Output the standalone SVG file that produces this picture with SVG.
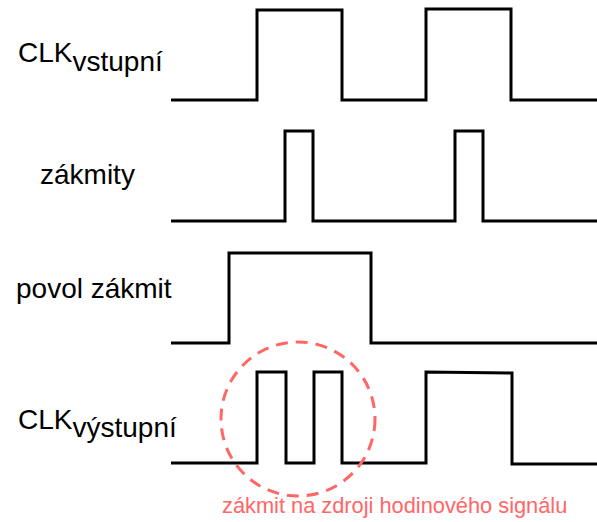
<svg xmlns="http://www.w3.org/2000/svg" width="597" height="522" viewBox="0 0 597 522">
<style>
.wave{fill:none;stroke:#000;stroke-width:3;stroke-linejoin:miter;stroke-linecap:butt}
.lbl{font-family:"Liberation Sans",Arial,sans-serif;font-size:28px;fill:#000}
.note{font-family:"Liberation Sans",Arial,sans-serif;font-size:21.8px;fill:#FF6666}
</style>
<rect width="597" height="522" fill="#fff"/>
<g id="clk-vstupni">
<text class="lbl" x="18" y="62">CLK<tspan dy="9">vstupní</tspan></text>
<path class="wave" d="M171,100 H257 V10 H342 V100 H426 V9 H511 V100 H597"/>
</g>
<g id="zakmity">
<text class="lbl" x="40" y="184">zákmity</text>
<path class="wave" d="M171,221 H285 V131 H313 V221 H455 V131 H483 V221 H597"/>
</g>
<g id="povol-zakmit">
<text class="lbl" x="16" y="298">povol zákmit</text>
<path class="wave" d="M171,343 H229 V253 H371 V343 H597"/>
</g>
<g id="clk-vystupni">
<text class="lbl" x="18" y="429">CLK<tspan dy="8">výstupní</tspan></text>
<path class="wave" d="M171,463 H257 V372 H286 V463 H314 V372 H342 V463 H426 V372 L512,373 V464 H597"/>
</g>
<g id="zakmit-poznamka">
<circle cx="298" cy="419" r="77" fill="none" stroke="#FF6666" stroke-width="3" stroke-dasharray="12 8"/>
<text class="note" x="222" y="513">zákmit na zdroji hodinového signálu</text>
</g>
</svg>
